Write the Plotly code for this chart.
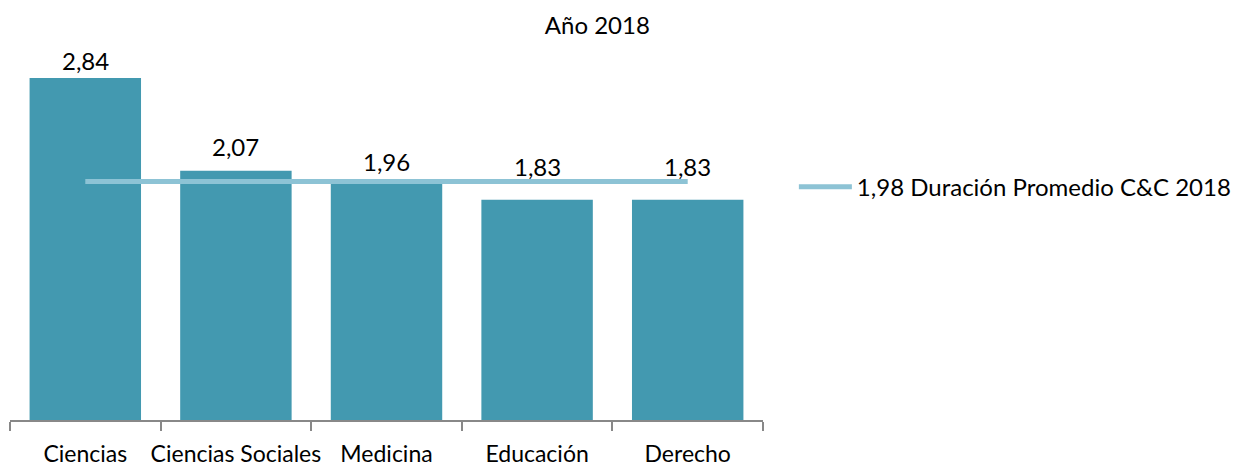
import plotly.graph_objects as go

categories = ["Ciencias", "Ciencias Sociales", "Medicina", "Educación", "Derecho"]
values = [2.84, 2.07, 1.96, 1.83, 1.83]
average = 1.98
avg_name = "1,98 Duración Promedio C&C 2018"
title = "Año 2018"

# pixel offsets of the value labels (Excel nudged some above the average line)
label_shift = [1, 8, 6, 17, 17]

FONT = "Lato"
fig = go.Figure()
fig.add_trace(go.Bar(
    x=categories, y=values, marker=dict(color="#4399B0", line=dict(width=0)),
    showlegend=False, width=0.74,
))
fig.add_trace(go.Scatter(
    x=categories, y=[average] * len(categories), mode="lines",
    line=dict(color="#8DC3D5", width=5), name=avg_name, showlegend=True,
))
for c, v, s in zip(categories, values, label_shift):
    fig.add_annotation(x=c, y=v, text=f"{v:.2f}".replace(".", ","), showarrow=False,
                       yanchor="bottom", yshift=s,
                       font=dict(size=24, family=FONT, color="#000000"))
fig.update_layout(
    width=1243, height=467,
    margin=dict(l=2, r=488, t=32, b=55, autoexpand=False),
    plot_bgcolor="white", paper_bgcolor="white",
    separators=",.",
    font=dict(family=FONT, size=24, color="#000000"),
    title=dict(text=title, x=0.78, xref="paper", xanchor="center", y=0.962, yanchor="middle",
               font=dict(size=24, family=FONT, color="#000000")),
    bargap=0.26,
    legend=dict(x=1.041, xanchor="left", y=0.613, yanchor="middle",
                font=dict(size=24, family=FONT), bgcolor="rgba(0,0,0,0)",
                itemwidth=53),
    xaxis=dict(showline=True, linecolor="#888888", linewidth=1.5, ticks="outside",
               tickson="boundaries", ticklen=9, tickcolor="#888888", tickwidth=1.5,
               tickangle=0, automargin=False,
               showgrid=False, ticklabelstandoff=13, tickfont=dict(size=23, family=FONT)),
    yaxis=dict(visible=False, range=[0, 3.156], showgrid=False, zeroline=False),
)
fig.write_html("out.html")
